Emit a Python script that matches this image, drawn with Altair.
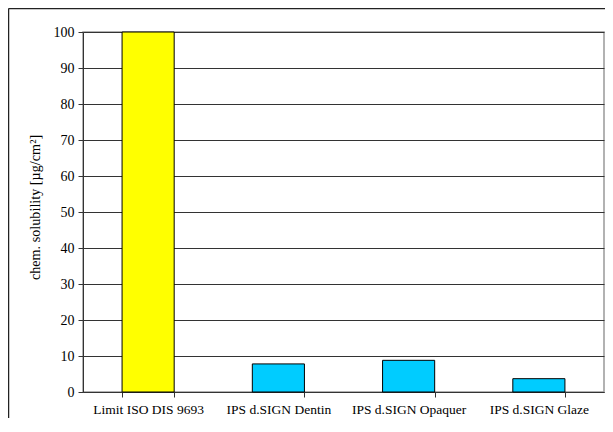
import altair as alt
import pandas as pd

categories = ["Limit ISO DIS 9693", "IPS d.SIGN Dentin", "IPS d.SIGN Opaquer", "IPS d.SIGN Glaze"]
values = [100, 7.8, 8.8, 3.7]
bar_colors = ["#FFFF00", "#00CCFF", "#00CCFF", "#00CCFF"]
y_ticks = [0, 10, 20, 30, 40, 50, 60, 70, 80, 90, 100]

df = pd.DataFrame({"cat": categories, "val": values, "color": bar_colors})

W, H = 521, 360
FONT = "Liberation Serif"

bars = alt.Chart(df).mark_bar(stroke="black", strokeWidth=1).encode(
    x=alt.X("cat:N", sort=categories, title=None,
            scale=alt.Scale(paddingInner=0.6, paddingOuter=0.3),
            axis=alt.Axis(labelAngle=0, tickBand="extent", tickSize=5, tickColor="#333",
                          domainColor="#333", labelFont=FONT, labelFontSize=13.5,
                          labelColor="black", labelPadding=5, grid=False)),
    y=alt.Y("val:Q", title="chem. solubility [µg/cm²]",
            scale=alt.Scale(domain=[0, 100], nice=False),
            axis=alt.Axis(values=y_ticks, tickSize=5, tickColor="#333", domainColor="#333",
                          gridColor="#333", gridWidth=1, labelFont=FONT, labelFontSize=14,
                          labelColor="black", labelPadding=4, titleFont=FONT,
                          titleFontSize=14.2, titleFontWeight="normal", titleColor="black",
                          titleX=-48, titleY=175, titleBaseline="middle",
                          titleAlign="center", titleAngle=270)),
    color=alt.Color("color:N", scale=None),
)

frame_data = alt.Data(values=[{"a": 1}])
left_line = alt.Chart(frame_data).mark_rule(color="#222", strokeWidth=1.5).encode(
    x=alt.value(-74.5), y=alt.value(-23.5), y2=alt.value(H + 40)
)
top_line = alt.Chart(frame_data).mark_rule(color="#222", strokeWidth=1.5).encode(
    x=alt.value(-74.5), x2=alt.value(W + 20), y=alt.value(-23.5)
)

chart = alt.layer(bars, left_line, top_line).properties(
    width=W, height=H,
    autosize=alt.AutoSizeParams(type="none"),
    padding={"left": 75, "top": 24, "right": 1, "bottom": 26},
).configure_view(stroke="#999", strokeWidth=1.5)

chart.save("out.html", embed_options={"renderer": "svg", "actions": False})
